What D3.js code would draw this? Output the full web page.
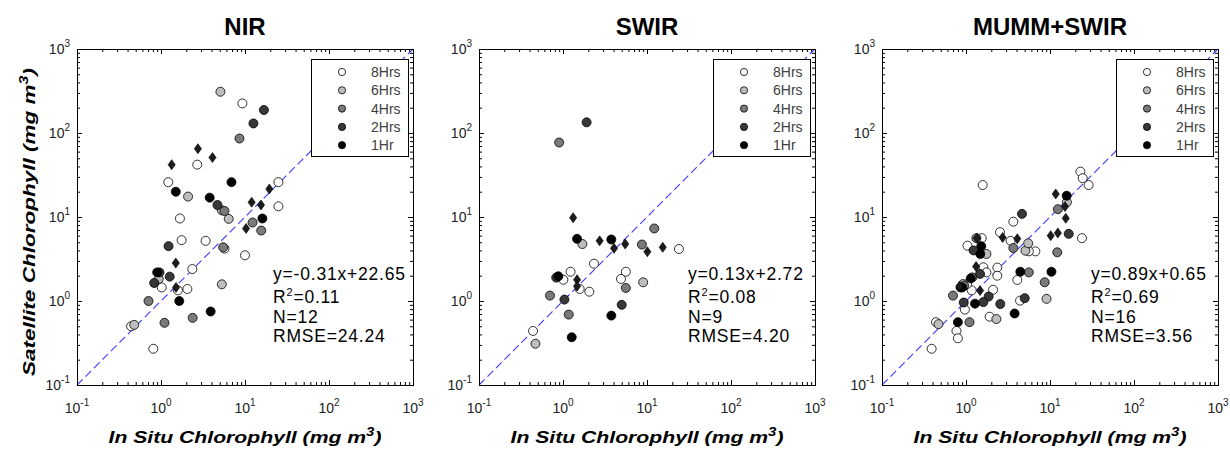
<!DOCTYPE html>
<html lang="en">
<head>
    <meta charset="UTF-8">
    <title>Chlorophyll match-ups</title>
    <style>
        body { margin: 0; background: #fff; }
        svg { font-family: Arial, "Liberation Sans", sans-serif; }
        .frame path, .frame line { stroke: #000; }
    </style>
</head>
<body>

<svg width="1230" height="450"></svg>

<script src="https://cdn.jsdelivr.net/npm/d3@7/dist/d3.min.js"></script>

<script>
    // panel titles, legend and stats text
    var titles = ["NIR", "SWIR", "MUMM+SWIR"];
    var legendLabels = ["8Hrs", "6Hrs", "4Hrs", "2Hrs", "1Hr"];
    var equations = ["y=-0.31x+22.65", "y=0.13x+2.72", "y=0.89x+0.65"];
    var r2Vals = ["0.11", "0.08", "0.69"];
    var nVals = ["12", "9", "16"];
    var rmseVals = ["24.24", "4.20", "3.56"];
    var tickVals = [0.1, 1, 10, 100, 1000];
    var tickExps = ["-1", "0", "1", "2", "3"];

    // [in situ, satellite] pairs
    var nir8 = [[9.3,225],[2.7,42],[1.22,26],[25,26],[25,13.4],[1.68,9.6],[1.76,5.3],[3.4,5.2],[5.7,4.2],[10,3.5],[2.36,2.4],[1.02,1.45],[2.06,1.39],[1.59,1.34],[0.44,0.5],[0.81,0.27]];
    var nir6 = [[5.1,310],[2.1,17.5],[5.3,12],[6.4,9.5],[5.3,1.58],[0.48,0.52],[0.94,1.83]];
    var nir4 = [[8.6,86],[5.7,11.8],[12.3,8.6],[15.6,6.9],[5.5,4.35],[0.71,1.0],[2.38,0.63],[1.1,0.55]];
    var nir2 = [[12.6,130],[16.8,188],[4.7,13.9],[1.23,4.5],[1.27,1.95],[0.83,1.64],[0.96,2.19]];
    var nir1 = [[1.5,20],[6.9,26],[3.8,17],[16.1,9.6],[1.65,1.0],[3.9,0.75],[0.9,2.19]];
    var nirDia = [[2.75,65],[4.1,51],[1.34,42],[19.5,21.5],[12,15],[15.5,13.9],[10.3,7.3],[1.5,2.83],[1.51,1.45]];

    var swir8 = [[24,4.16],[2.34,2.78],[1.23,2.23],[1.01,1.79],[5.6,2.23],[4.9,1.83],[2.06,1.29],[1.58,1.39],[0.44,0.44]];
    var swir6 = [[1.7,4.77],[9.0,1.67],[0.47,0.31]];
    var swir4 = [[0.9,77],[12.2,7.3],[8.7,4.7],[5.6,1.43],[0.7,1.16],[1.17,0.69]];
    var swir2 = [[1.91,134],[5.0,0.9],[1.04,1.04],[0.83,1.9]];
    var swir1 = [[1.47,5.5],[3.76,5.4],[3.76,0.67],[1.27,0.37],[0.88,1.97]];
    var swirDia = [[1.32,9.8],[2.73,5.2],[4.05,4.24],[5.5,4.77],[10.1,3.86],[15.4,4.35],[1.47,1.79],[1.47,1.5]];

    var mumm8 = [[1.58,24],[23,34.7],[24.5,29],[28.8,24],[24,5.6],[3.66,8.8],[2.54,6.6],[3.4,5.2],[1.54,5.6],[1.04,4.56],[6.7,3.9],[5.6,3.9],[1.61,2.52],[1.75,2.19],[2.36,2.5],[2.36,2.0],[4.08,1.78],[2.1,1.36],[1.17,1.34],[4.4,1.01],[0.97,0.79],[1.91,0.65],[0.44,0.56],[0.77,0.44],[0.8,0.36],[0.39,0.27],[1.03,1.59]];
    var mumm6 = [[5.1,3.97],[9.1,1.06],[2.3,0.61],[0.47,0.53],[1.75,3.63],[15.9,15],[5.5,4.86],[0.92,1.59]];
    var mumm4 = [[12.2,3.8],[8.65,1.67],[5.6,2.19],[3.66,4.27],[0.7,1.16],[1.1,0.56],[1.33,5.6],[12.4,12.4],[0.95,1.52],[1.19,1.91]];
    var mumm2 = [[4.64,10.9],[16.7,6.3],[1.23,4.0],[5.0,1.08],[2.56,0.92],[1.86,1.13],[1.61,0.97],[0.86,1.45],[0.94,0.96],[1.47,2.1]];
    var mumm1 = [[1.52,4.5],[15.8,17.9],[4.43,2.23],[10.4,2.23],[3.79,0.71],[1.28,0.93],[0.8,0.56],[1.14,1.86],[0.9,1.45],[1.48,3.63]];
    var mummDia = [[11.7,18.8],[15.4,9.65],[15.1,13.3],[10.2,6.0],[12.4,6.46],[1.35,5.6],[2.73,5.7],[4.08,5.5],[1.32,2.57],[1.47,1.33],[0.84,1.5]];

    var fills = ["#ffffff", "#bdbdbd", "#7a7a7a", "#383838", "#000000"];

    var panels = [
        {circles: [nir8, nir6, nir4, nir2, nir1], dia: nirDia, left: 77, textX: 196},
        {circles: [swir8, swir6, swir4, swir2, swir1], dia: swirDia, left: 479, textX: 209},
        {circles: [mumm8, mumm6, mumm4, mumm2, mumm1], dia: mummDia, left: 882, textX: 209}
    ];

    var svg = d3.select("svg");
    var plotTop = 49, size = 336;

    var minors = [];
    for (var d = -1; d < 3; d++)
        for (var k = 2; k < 10; k++) minors.push(k * Math.pow(10, d));

    function supLabel(sel, exp) {
        sel.text("");
        sel.append("tspan").text("10");
        sel.append("tspan").attr("dy", -7).attr("font-size", 10).text(exp);
    }

    panels.forEach(function (p, i) {
        var g = svg.append("g").attr("transform", `translate(${p.left}, ${plotTop})`);
        var x = d3.scaleLog().domain([0.1, 1000]).range([0, size]);
        var y = d3.scaleLog().domain([0.1, 1000]).range([size, 0]);

        g.append("rect").attr("width", size).attr("height", size).attr("fill", "#fff");

        // inward ticks on all four sides
        var sides = [
            [d3.axisBottom(x), `translate(0, ${size})`],
            [d3.axisTop(x), "translate(0, 0)"],
            [d3.axisLeft(y), "translate(0, 0)"],
            [d3.axisRight(y), `translate(${size}, 0)`]
        ];
        sides.forEach(function (s) {
            g.append("g").attr("class", "frame").attr("transform", s[1])
                .call(s[0].tickValues(minors).tickSizeInner(-3).tickSizeOuter(0).tickFormat(""));
            g.append("g").attr("class", "frame").attr("transform", s[1])
                .call(s[0].tickValues(tickVals).tickSizeInner(-5).tickSizeOuter(0).tickFormat(""))
                .select(".domain").remove();
        });

        // tick labels with superscript exponents
        tickVals.forEach(function (v, j) {
            g.append("text")
                .attr("x", x(v)).attr("y", size + 28)
                .attr("text-anchor", "middle")
                .attr("font-size", 14).attr("fill", "#222")
                .call(supLabel, tickExps[j]);
            g.append("text")
                .attr("x", -7).attr("y", y(v) + 5)
                .attr("text-anchor", "end")
                .attr("font-size", 14).attr("fill", "#222")
                .call(supLabel, tickExps[j]);
        });

        // 1:1 line
        g.append("line")
            .attr("x1", x(0.1)).attr("y1", y(0.1))
            .attr("x2", x(1000)).attr("y2", y(1000))
            .style("fill", "none")
            .style("stroke", "#3a3aff")
            .style("stroke-width", "1.1px")
            .style("stroke-dasharray", "8,4");

        // points
        p.circles.forEach(function (series, s) {
            g.append("g").selectAll("circle").data(series).join("circle")
                .attr("cx", d => x(d[0])).attr("cy", d => y(d[1]))
                .attr("r", 4.5)
                .attr("fill", fills[s])
                .attr("stroke", "#000").attr("stroke-width", 0.8);
        });
        g.append("g").selectAll("path").data(p.dia).join("path")
            .attr("d", d => {
                var cx = x(d[0]), cy = y(d[1]);
                return `M${cx},${cy - 5}L${cx + 3.6},${cy}L${cx},${cy + 5}L${cx - 3.6},${cy}Z`;
            })
            .attr("fill", "#1c1c1c").attr("stroke", "#000").attr("stroke-width", 0.6);

        // legend
        var lg = g.append("g").attr("transform", "translate(234, 10)");
        lg.append("rect").attr("width", 97).attr("height", 97)
            .attr("fill", "#fff").attr("stroke", "#000").attr("stroke-width", 1)
            .attr("x", 0.5).attr("y", 0.5);
        legendLabels.forEach(function (lab, j) {
            var ly = 13 + j * 18.3;
            lg.append("circle").attr("cx", 31).attr("cy", ly).attr("r", 3.6)
                .attr("fill", fills[j]).attr("stroke", "#000").attr("stroke-width", 0.8);
            lg.append("text").attr("x", 60).attr("y", ly + 5)
                .attr("font-size", 14).attr("fill", "#404040").text(lab);
        });

        // stats text
        var st = g.append("g").attr("font-size", 17.5).attr("fill", "#000")
            .attr("letter-spacing", 0.8);
        st.append("text").attr("x", p.textX).attr("y", 231).text(equations[i]);
        var r2 = st.append("text").attr("x", p.textX).attr("y", 254);
        r2.append("tspan").text("R");
        r2.append("tspan").attr("dy", -7).attr("font-size", 11).text("2");
        r2.append("tspan").attr("dy", 7).text("=" + r2Vals[i]);
        st.append("text").attr("x", p.textX).attr("y", 274).text("N=" + nVals[i]);
        st.append("text").attr("x", p.textX).attr("y", 293).text("RMSE=" + rmseVals[i]);

        // box outline
        g.append("rect").attr("x", 0.5).attr("y", 0.5).attr("width", size).attr("height", size)
            .attr("fill", "none").attr("stroke", "#000");

        // title
        g.append("text").attr("x", size / 2).attr("y", -14)
            .attr("text-anchor", "middle").attr("font-size", 24).attr("font-weight", "bold")
            .text(titles[i]);

        // x label
        var xl = g.append("text").attr("x", size / 2).attr("y", size + 58)
            .attr("text-anchor", "middle").attr("font-size", 17)
            .attr("font-weight", "bold").attr("font-style", "italic")
            .attr("textLength", 273).attr("lengthAdjust", "spacingAndGlyphs");
        xl.append("tspan").text("In Situ Chlorophyll (mg m");
        xl.append("tspan").attr("dy", -7).attr("font-size", 12).text("3");
        xl.append("tspan").attr("dy", 7).text(")");

        if (i === 0) {
            var yl = g.append("text")
                .attr("transform", `translate(-42, ${size / 2 + 5}) rotate(-90)`)
                .attr("text-anchor", "middle").attr("font-size", 17)
                .attr("font-weight", "bold").attr("font-style", "italic")
                .attr("textLength", 308).attr("lengthAdjust", "spacingAndGlyphs");
            yl.append("tspan").text("Satellite Chlorophyll (mg m");
            yl.append("tspan").attr("dy", -7).attr("font-size", 12).text("3");
            yl.append("tspan").attr("dy", 7).text(")");
        }
    });
</script>
</body>
</html>
